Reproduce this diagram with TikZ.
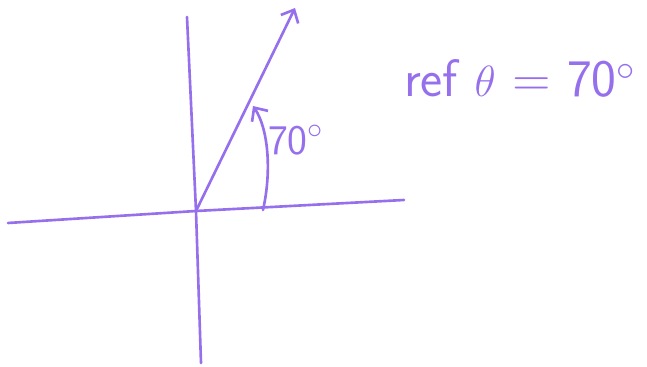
\documentclass[tikz,border=0pt]{standalone}
\usepackage{amsmath}
\usetikzlibrary{arrows.meta}
\usetikzlibrary{positioning}
\definecolor{pen}{RGB}{150,112,236}
\tikzset{pen line/.style = {draw=pen, line width=1.5pt, line cap=round, line join=round}}
\tikzset{pen tip/.style = {-{Straight Barb[length=6pt,width=11pt]}}}
\tikzset{pen text/.style = {text=pen, inner sep=0pt, font=\sffamily}}

\begin{document}
\begin{tikzpicture}[x=0.02cm,y=-0.02cm]
		\useasboundingbox (0,0) rectangle (647,367);
		
		\coordinate (O) at (196,211);
		\coordinate (xl) at (8,223);
		\coordinate (xr) at (404,200);
		\coordinate (yt) at (187,17);
		\coordinate (yb) at (201,363);
		\coordinate (tip) at (295,8);
		\coordinate (a0) at (263,210);
		\coordinate (a1) at (253,106);
		
		\node[pen text, font=\sffamily\fontsize{24}{24}\selectfont] (ang) at (296,140) {70$^\circ$};
		\node[pen text, font=\sffamily\fontsize{30}{30}\selectfont] (ref) at (520,78) {ref $\theta$ = 70$^\circ$};
		
		\draw[pen line] (xl) -- (O) -- (xr);
		\draw[pen line] (yt) -- (O) -- (yb);
		\draw[pen line, pen tip] (O) -- (tip);
		\draw[pen line, pen tip] (a0) .. controls (272,170) and (268,128) .. (a1);
		\end{tikzpicture}
\end{document}
